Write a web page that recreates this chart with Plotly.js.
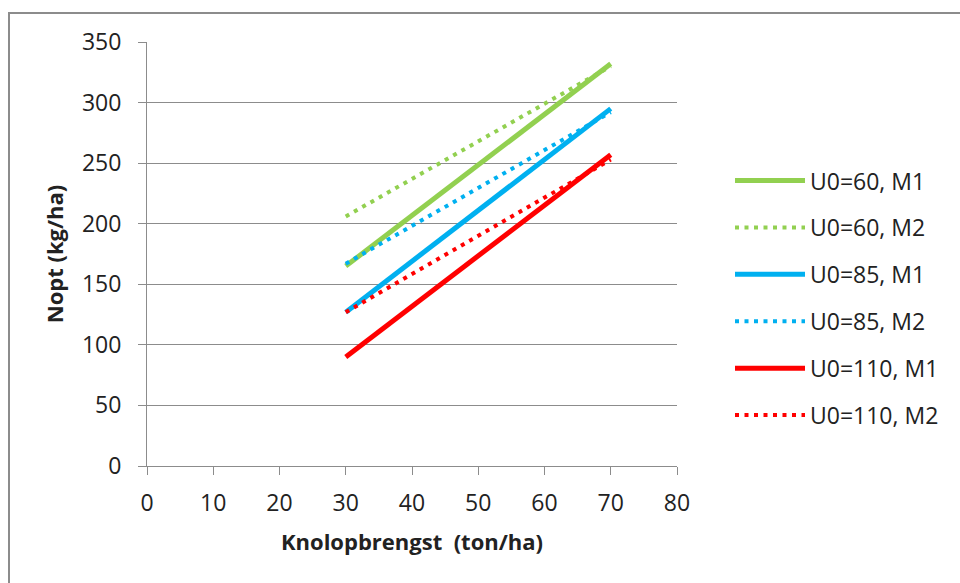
<!DOCTYPE html>
<html>
<head>
<meta charset="utf-8">
<script src="https://cdn.plot.ly/plotly-3.0.1.min.js"></script>
<style>
  html, body { margin: 0; padding: 0; background: #fff; width: 960px; height: 583px; overflow: hidden; }
  #frame { position: absolute; left: 8px; top: 12px; width: 980px; height: 620px; border: 2px solid #8c8c8c; box-sizing: border-box; }
  #chart { position: absolute; left: 0; top: 0; width: 960px; height: 583px; }
</style>
</head>
<body>
<div id="frame"></div>
<div id="chart"></div>
<script>
// Data
const yield_x = [30, 70];
const u60_m1 = [165, 332];
const u60_m2 = [206, 330];
const u85_m1 = [127, 295];
const u85_m2 = [167, 292];
const u110_m1 = [90, 257];
const u110_m2 = [127, 253];
const seriesNames = ["U0=60, M1", "U0=60, M2", "U0=85, M1", "U0=85, M2", "U0=110, M1", "U0=110, M2"];
const xTickVals = [0, 10, 20, 30, 40, 50, 60, 70, 80];
const yTickVals = [0, 50, 100, 150, 200, 250, 300, 350];

const GREEN = "#92D050", BLUE = "#00B0F0", RED = "#FF0000";
const solid = (c) => ({ color: c, width: 5 });
const dotted = (c) => ({ color: c, width: 4, dash: "4px,5.5px" });

const ys = [u60_m1, u60_m2, u85_m1, u85_m2, u110_m1, u110_m2];
const lines = [solid(GREEN), dotted(GREEN), solid(BLUE), dotted(BLUE), solid(RED), dotted(RED)];

const traces = ys.map((y, i) => ({
  x: yield_x, y: y, type: "scatter", mode: "lines",
  name: seriesNames[i], line: lines[i], legendgroup: "g" + i
}));

const FAM = "'Open Sans', 'Liberation Sans', sans-serif";
const TXT = "#222";
const layout = {
  width: 960, height: 583,
  margin: { l: 147, r: 283, t: 42, b: 117 },
  paper_bgcolor: "rgba(0,0,0,0)",
  plot_bgcolor: "rgba(0,0,0,0)",
  font: { family: FAM, size: 23, color: TXT },
  showlegend: true,
  legend: {
    x: 1.1, xanchor: "left", y: 0.396, yanchor: "middle",
    font: { family: FAM, size: 23, color: TXT },
    itemwidth: 70, tracegroupgap: 14, bgcolor: "rgba(0,0,0,0)"
  },
  xaxis: {
    range: [0, 80], tickvals: xTickVals, showgrid: false, zeroline: false,
    showline: true, linecolor: "#8c8c8c", linewidth: 1,
    ticks: "outside", ticklen: 8, tickcolor: "#8c8c8c", ticklabelstandoff: 8,
    tickfont: { family: FAM, size: 23, color: TXT },
    title: { text: "<b>Knolopbrengst  (ton/ha)</b>", font: { family: FAM, size: 22, color: TXT }, standoff: 18 },
    fixedrange: true
  },
  yaxis: {
    range: [0, 350], tickvals: yTickVals, showgrid: true, gridcolor: "#8c8c8c", gridwidth: 1,
    zeroline: false, showline: true, linecolor: "#8c8c8c", linewidth: 1,
    ticks: "outside", ticklen: 8, tickcolor: "#8c8c8c", ticklabelstandoff: 12,
    tickfont: { family: FAM, size: 23, color: TXT },
    title: { text: "<b>Nopt (kg/ha)</b>", font: { family: FAM, size: 22, color: TXT }, standoff: 12 },
    fixedrange: true
  }
};

Plotly.newPlot("chart", traces, layout, { displayModeBar: false, staticPlot: true });
</script>
</body>
</html>
